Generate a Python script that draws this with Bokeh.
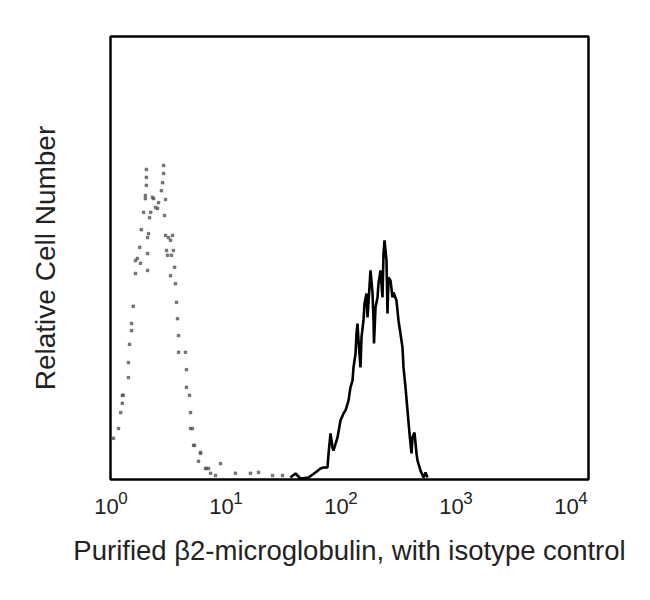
from bokeh.plotting import figure
from bokeh.models import FixedTicker, Range1d, LogAxis, LogScale
from bokeh.embed import file_html
from bokeh.resources import INLINE

iso_x = [1.03, 1.14, 1.19, 1.23, 1.23, 1.25, 1.39, 1.39, 1.42, 1.48, 1.48, 1.53, 1.60, 1.60,
         1.66, 1.74, 1.77, 1.80, 1.88, 1.95, 1.95, 1.99, 1.99, 1.99, 2.04, 2.04, 2.04, 2.08,
         2.12, 2.17, 2.25, 2.30, 2.39, 2.49, 2.54, 2.69, 2.75, 2.81, 2.81, 2.86, 2.92, 2.92,
         2.98, 3.04, 3.10, 3.23, 3.23, 3.29, 3.36, 3.42, 3.50, 3.56, 3.64, 3.71, 3.79, 3.79,
         4.35, 4.44, 4.44, 4.72, 4.82, 4.82, 5.01, 5.12, 5.21, 5.65, 5.89, 5.89, 6.50, 6.63,
         6.91, 7.19, 7.94, 8.78, 11.85, 16.0, 18.8, 24.9, 30.4]
iso_y = [9.3, 11.5, 15.1, 17.2, 19.0, 19.0, 23.0, 26.4, 30.5, 33.6, 35.2, 39.1, 46.5, 49.4,
         49.9, 52.4, 48.8, 56.4, 60.3, 63.4, 64.1, 66.4, 68.2, 70.0, 54.6, 51.0, 47.2, 55.5,
         59.1, 60.3, 63.7, 63.4, 61.4, 61.2, 62.5, 65.2, 67.0, 69.1, 70.9, 59.6, 63.2, 55.1,
         51.7, 50.6, 54.6, 54.0, 46.0, 50.6, 55.1, 51.7, 47.9, 44.2, 40.0, 36.3, 32.5, 28.7,
         28.7, 24.8, 20.8, 19.0, 15.1, 11.5, 11.5, 7.7, 7.7, 4.1, 6.1, 5.9, 2.5, 2.5,
         2.5, 1.4, 0.9, 3.6, 1.4, 1.4, 1.6, 0.9, 0.9]

b2m_x = [35.6, 39.4, 43.5, 51.2, 58.8, 65.0, 69.1, 74.8, 76.4, 79.5, 82.7, 84.3, 91.4, 97.0,
         103.1, 107.3, 113.9, 118.5, 123.4, 125.9, 131.1, 133.7, 136.4, 139.1, 144.8, 147.8,
         153.8, 156.9, 163.3, 166.7, 177.0, 184.3, 188.0, 189.8, 195.6, 203.6, 207.6, 216.2,
         225.0, 229.6, 234.2, 243.8, 248.7, 253.8, 264.2, 274.9, 280.5, 297.7, 310.0, 335.8,
         342.6, 356.6, 371.2, 386.3, 402.1, 410.1, 427.0, 444.4, 453.4, 481.6, 511.5, 532.4,
         553.8]
b2m_y = [0.45, 1.35, 0.23, 0.45, 1.58, 2.48, 2.71, 2.71, 5.87, 10.4, 7.2, 6.5, 9.5, 13.3,
         14.9, 15.6, 17.8, 20.8, 22.3, 25.3, 28.4, 33.0, 35.2, 31.4, 25.3, 32.1,
         35.9, 39.7, 42.0, 36.6, 47.2, 42.0, 35.9, 30.7, 38.8, 41.1, 44.2, 47.2,
         41.1, 51.0, 54.0, 49.4, 37.5, 45.6, 44.9, 41.1, 42.2, 40.4, 35.9, 29.8,
         25.3, 20.8, 15.6, 10.4, 5.9, 9.5, 10.6, 5.9, 4.3, 2.0, 0.45, 1.6,
         0.45]

tick_values = [1, 10, 100, 1000, 10000]
tick_bases = ["10", "10", "10", "10", "10"]
tick_exponents = ["0", "1", "2", "3", "4"]

X_START, X_END = 0.9704, 13915
# exponent labels sit just right of the "10" of each decade label
EXP_SHIFT = 1.2463

p = figure(width=640, height=590, x_axis_type="log",
           x_range=Range1d(X_START, X_END), y_range=Range1d(0, 100),
           output_backend="svg", toolbar_location=None,
           min_border_left=110, min_border_right=52, min_border_top=36, min_border_bottom=111)
p.extra_x_ranges = {"exp": Range1d(X_START / EXP_SHIFT, X_END / EXP_SHIFT)}
p.extra_x_scales = {"exp": LogScale()}

p.scatter(iso_x, iso_y, marker="square", size=2.5, color="#555555", alpha=0.75)
p.line(b2m_x, b2m_y, line_color="black", line_width=2.6)

p.grid.visible = False
p.outline_line_color = "black"
p.outline_line_width = 2.5
p.background_fill_color = "white"
p.border_fill_color = "white"

# main data axis: the "10" of each decade label (en space leaves room for the exponent)
p.xaxis.ticker = FixedTicker(ticks=tick_values)
p.xaxis.major_label_overrides = {t: b + "\u2002" for t, b in zip(tick_values, tick_bases)}
p.xaxis.minor_tick_line_color = None
p.xaxis.major_tick_line_color = None
p.xaxis.major_tick_out = 0
p.xaxis.major_tick_in = 0
p.xaxis.axis_line_color = None
p.xaxis.major_label_text_font = "Liberation Sans"
p.xaxis.major_label_text_font_size = "22px"
p.xaxis.major_label_text_color = "#222222"
p.xaxis.major_label_standoff = 14

# raised exponents
exp_axis = LogAxis(x_range_name="exp", ticker=FixedTicker(ticks=tick_values),
                   major_label_overrides=dict(zip(tick_values, tick_exponents)))
exp_axis.minor_tick_line_color = None
exp_axis.major_tick_line_color = None
exp_axis.major_tick_out = 0
exp_axis.major_tick_in = 0
exp_axis.axis_line_color = None
exp_axis.major_label_text_font = "Liberation Sans"
exp_axis.major_label_text_font_size = "17px"
exp_axis.major_label_text_color = "#222222"
exp_axis.major_label_standoff = -30
exp_axis.axis_label = "Purified \u03b22-microglobulin, with isotype control"
exp_axis.axis_label_text_font = "Liberation Sans"
exp_axis.axis_label_text_font_size = "27.5px"
exp_axis.axis_label_text_font_style = "normal"
exp_axis.axis_label_text_color = "#222222"
exp_axis.axis_label_standoff = 28
p.add_layout(exp_axis, "below")

p.yaxis.ticker = FixedTicker(ticks=[])
p.yaxis.minor_tick_line_color = None
p.yaxis.major_tick_line_color = None
p.yaxis.major_tick_out = 0
p.yaxis.major_tick_in = 0
p.yaxis.axis_line_color = None
p.yaxis.axis_label = "Relative Cell Number"
p.yaxis.axis_label_text_font = "Liberation Sans"
p.yaxis.axis_label_text_font_size = "28px"
p.yaxis.axis_label_text_font_style = "normal"
p.yaxis.axis_label_text_color = "#222222"
p.yaxis.axis_label_standoff = 50

open("out.html", "w").write(file_html(p, INLINE))
